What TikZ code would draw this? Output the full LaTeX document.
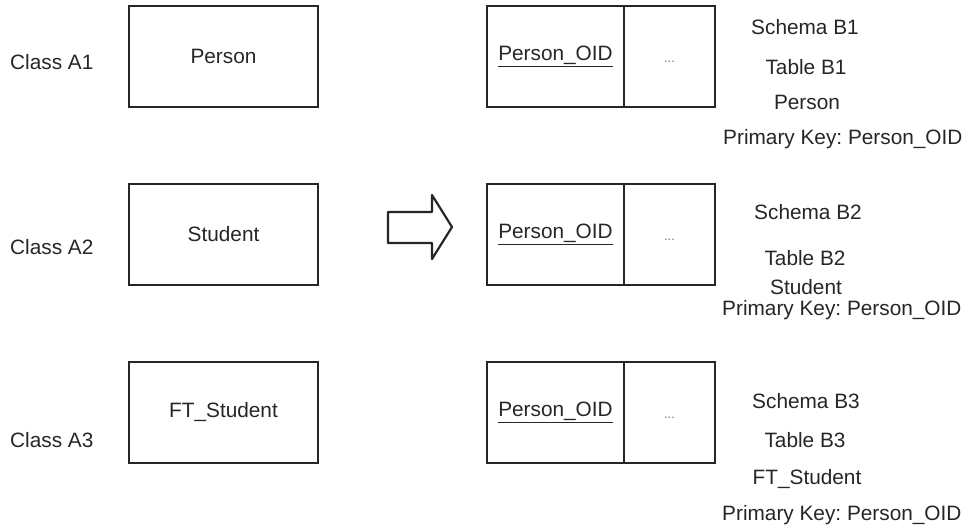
\documentclass[tikz,border=0pt]{standalone}
\usepackage{fontspec}
\setmainfont{Liberation Sans}
\frenchspacing
\begin{document}
\begin{tikzpicture}[x=1pt,y=-1pt,
  every node/.style={font=\fontsize{20.8}{24}\selectfont, text=black!85},
  classbox/.style={draw=black!85, line width=2.2pt, minimum width=189pt, minimum height=101pt, inner sep=0pt},
  keycell/.style={draw=black!85, line width=2.2pt, minimum width=137pt, minimum height=101pt, inner sep=0pt},
  restcell/.style={draw=black!85, line width=2.2pt, minimum width=91pt, minimum height=101pt, inner sep=0pt},
  lbl/.style={anchor=base, inner sep=0pt},
  lblw/.style={anchor=base west, inner sep=0pt},
  bigarrow/.style={draw=black!85, line width=2.2pt, line join=round, fill=white}]
\useasboundingbox (0,0) rectangle (970,531);

% object classes on the left
\node[classbox] (a1) at (223.5,56.5) {Person};
\node[classbox] (a2) at (223.5,234.5) {Student};
\node[classbox] (a3) at (223.5,412.5) {FT\_Student};
\node[lblw] (ca1) at (10,69) {Class A1};
\node[lblw] (ca2) at (10,254) {Class A2};
\node[lblw] (ca3) at (10,447) {Class A3};

% mapping arrow
\draw[bigarrow] (388,212) -- (432,212) -- (432,195) -- (452,227) -- (432,259) -- (432,243) -- (388,243) -- cycle;

% relational tables on the right
\foreach \r/\y in {1/56.5,2/234.5,3/412.5}{
  \node[keycell] (k\r) at (555.5,\y) {\underline{Person\_OID}};
  \node[restcell, text=black!55] (d\r) at (669.5,\y) {\raisebox{-6pt}[0pt][0pt]{\fontsize{13}{14}\selectfont ...}};
}

% table descriptions
\node[lbl] (s1) at (805,34) {Schema B1};
\node[lbl] (t1) at (806,74) {Table B1};
\node[lbl] (n1) at (807,109) {Person};
\node[lblw] (p1) at (723,144) {Primary Key: Person\_OID};

\node[lbl] (s2) at (808,219) {Schema B2};
\node[lbl] (t2) at (805,265) {Table B2};
\node[lbl] (n2) at (806,294) {Student};
\node[lblw] (p2) at (722,315) {Primary Key: Person\_OID};

\node[lbl] (s3) at (806,408) {Schema B3};
\node[lbl] (t3) at (805,447) {Table B3};
\node[lbl] (n3) at (807,484) {FT\_Student};
\node[lblw] (p3) at (722,520) {Primary Key: Person\_OID};
\end{tikzpicture}
\end{document}
